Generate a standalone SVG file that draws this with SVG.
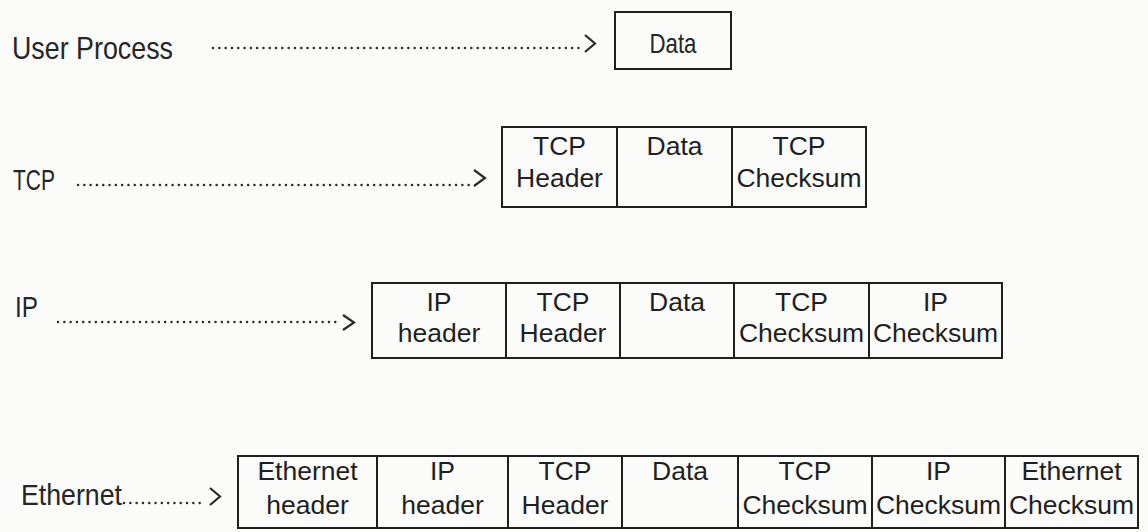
<svg xmlns="http://www.w3.org/2000/svg" width="1148" height="532" viewBox="0 0 1148 532">
  <style>
    .bg { fill: #fbfbfa; }
    .box { fill: none; stroke: #1f1f1f; stroke-width: 2; }
    .cell { font-family: "Liberation Sans", Arial, sans-serif; font-size: 26.5px; fill: #1f1f1f; text-anchor: middle; }
    .label { font-family: "Liberation Sans", Arial, sans-serif; fill: #262626; }
    .dots { fill: none; stroke: #2a2a2a; stroke-width: 2.4; stroke-linecap: round; stroke-dasharray: 0.1 6.2; }
    .head { fill: none; stroke: #2a2a2a; stroke-width: 2.2; stroke-linejoin: miter; }
  </style>

  <rect class="bg" x="0" y="0" width="1148" height="532"/>

  <!-- layer names -->
  <g id="label-user-process">
    <text class="label" x="12" y="59" font-size="32" textLength="161" lengthAdjust="spacingAndGlyphs">User Process</text>
  </g>
  <g id="label-tcp">
    <text class="label" x="13" y="190" font-size="30" textLength="42" lengthAdjust="spacingAndGlyphs">TCP</text>
  </g>
  <g id="label-ip">
    <text class="label" x="15" y="317" font-size="30" textLength="23" lengthAdjust="spacingAndGlyphs">IP</text>
  </g>
  <g id="label-ethernet">
    <text class="label" x="21" y="505" font-size="30" textLength="101" lengthAdjust="spacingAndGlyphs">Ethernet</text>
  </g>

  <!-- dotted arrows from each layer name to its frame -->
  <g id="connectors">
    <line class="dots" x1="213" y1="48" x2="581" y2="48"/>
    <path class="head" d="M585,35 L595,43.5 L585,52"/>

    <line class="dots" x1="78" y1="185" x2="470" y2="185"/>
    <path class="head" d="M474,170 L485,178 L474,186"/>

    <line class="dots" x1="58" y1="322" x2="338" y2="322"/>
    <path class="head" d="M343,315 L354,322.5 L343,330"/>

    <line class="dots" x1="124" y1="503" x2="205" y2="503"/>
    <path class="head" d="M210,488 L220,496.5 L210,505"/>
  </g>

  <!-- application data -->
  <g id="frame-user">
    <rect class="box" x="615" y="12" width="116" height="57"/>
    <text class="label" x="649.5" y="53" font-size="28" textLength="47" lengthAdjust="spacingAndGlyphs">Data</text>
  </g>

  <!-- TCP segment -->
  <g id="frame-tcp">
    <rect class="box" x="502" y="127" width="364" height="80"/>
    <line class="box" x1="617" y1="127" x2="617" y2="207"/>
    <line class="box" x1="732" y1="127" x2="732" y2="207"/>
    <text class="cell" x="559.5" y="155">TCP</text>
    <text class="cell" x="559.5" y="187">Header</text>
    <text class="cell" x="674.5" y="155">Data</text>
    <text class="cell" x="799" y="155">TCP</text>
    <text class="cell" x="799" y="187">Checksum</text>
  </g>

  <!-- IP datagram -->
  <g id="frame-ip">
    <rect class="box" x="372" y="283" width="630" height="75"/>
    <line class="box" x1="506" y1="283" x2="506" y2="358"/>
    <line class="box" x1="620" y1="283" x2="620" y2="358"/>
    <line class="box" x1="734" y1="283" x2="734" y2="358"/>
    <line class="box" x1="869" y1="283" x2="869" y2="358"/>
    <text class="cell" x="439" y="311">IP</text>
    <text class="cell" x="439" y="342">header</text>
    <text class="cell" x="563" y="311">TCP</text>
    <text class="cell" x="563" y="342">Header</text>
    <text class="cell" x="677" y="311">Data</text>
    <text class="cell" x="801.5" y="311">TCP</text>
    <text class="cell" x="801.5" y="342">Checksum</text>
    <text class="cell" x="935.5" y="311">IP</text>
    <text class="cell" x="935.5" y="342">Checksum</text>
  </g>

  <!-- Ethernet frame -->
  <g id="frame-ethernet">
    <rect class="box" x="238" y="456" width="900" height="72"/>
    <line class="box" x1="377" y1="456" x2="377" y2="528"/>
    <line class="box" x1="508" y1="456" x2="508" y2="528"/>
    <line class="box" x1="622" y1="456" x2="622" y2="528"/>
    <line class="box" x1="738" y1="456" x2="738" y2="528"/>
    <line class="box" x1="872" y1="456" x2="872" y2="528"/>
    <line class="box" x1="1005" y1="456" x2="1005" y2="528"/>
    <text class="cell" x="307.5" y="480">Ethernet</text>
    <text class="cell" x="307.5" y="514">header</text>
    <text class="cell" x="442.5" y="480">IP</text>
    <text class="cell" x="442.5" y="514">header</text>
    <text class="cell" x="565" y="480">TCP</text>
    <text class="cell" x="565" y="514">Header</text>
    <text class="cell" x="680" y="480">Data</text>
    <text class="cell" x="805" y="480">TCP</text>
    <text class="cell" x="805" y="514">Checksum</text>
    <text class="cell" x="938.5" y="480">IP</text>
    <text class="cell" x="938.5" y="514">Checksum</text>
    <text class="cell" x="1071.5" y="480">Ethernet</text>
    <text class="cell" x="1071.5" y="514">Checksum</text>
  </g>
</svg>
